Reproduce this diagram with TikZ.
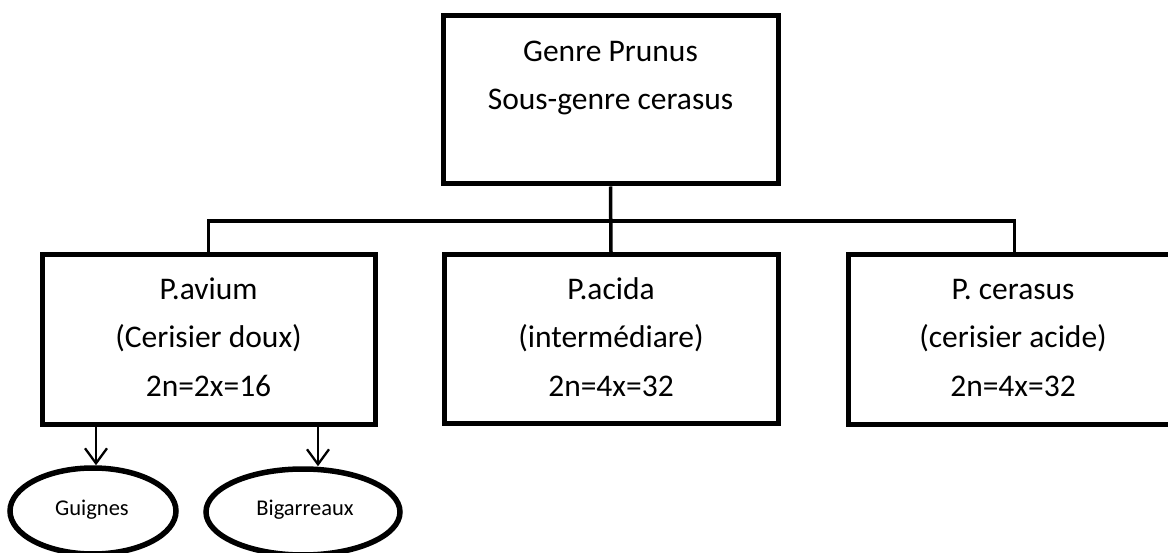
\documentclass[tikz,border=0pt]{standalone}
\usepackage{fontspec}
\setmainfont{Carlito}
\usetikzlibrary{arrows.meta,shapes.geometric}
\begin{document}
\begin{tikzpicture}[x=1pt,y=-1pt,
  box/.style={draw=black,line width=5pt,rectangle,inner sep=0pt},
  big/.style={font=\fontsize{31.5}{38}\selectfont,anchor=base,inner sep=0pt},
  small/.style={font=\fontsize{22.5}{27}\selectfont,inner sep=0pt},
  oval/.style={draw=black,line width=5.5pt,ellipse,inner sep=0pt},
  conn/.style={draw=black,line width=3.5pt},
  arr/.style={draw=black,line width=2.3pt,-{Straight Barb[length=15pt,width=22pt,line width=2.3pt]}}]
\useasboundingbox (0,0) rectangle (1168,553);
\clip (0,0) rectangle (1168,553);
% boxes
\node[box,minimum width=335pt,minimum height=168pt] (top) at (610.5,100) {};
\node[box,minimum width=333pt,minimum height=169pt] (pavium) at (208.5,339.5) {};
\node[box,minimum width=334pt,minimum height=168pt] (acida) at (611,339) {};
\node[box,minimum width=333pt,minimum height=169pt] (cerasus) at (1014.5,339.5) {};
% texts
\node[big] (t1) at (610.5,62) {Genre Prunus};
\node[big] (t2) at (610.5,110) {Sous-genre cerasus};
\node[big] (a1) at (208.5,300) {P.avium};
\node[big] (a2) at (208.5,348) {(Cerisier doux)};
\node[big] (a3) at (208.5,397) {2n=2x=16};
\node[big] (b1) at (611,300) {P.acida};
\node[big] (b2) at (611,348) {(intermédiare)};
\node[big] (b3) at (611,397) {2n=4x=32};
\node[big] (c1) at (1013,300) {P. cerasus};
\node[big] (c2) at (1013,348) {(cerisier acide)};
\node[big] (c3) at (1013,397) {2n=4x=32};
% connectors
\coordinate (bar) at (611,221);
\draw[conn] (pavium.north) |- (bar) -| (cerasus.north);
\draw[conn] (top.south) -- (acida.north);
% ellipses
\node[oval,minimum width=166pt,minimum height=86pt] (guignes) at (93,511) {};
\node[small] (gt) at (92,510) {Guignes};
\node[oval,minimum width=194pt,minimum height=86pt] (bigarreaux) at (303,512) {};
\node[small] (bt) at (305,510) {Bigarreaux};
\draw[arr] (pavium.south -| 96,0) -- (guignes.north -| 96,0);
\draw[arr] (pavium.south -| 318,0) -- (bigarreaux.north -| 318,0);
\end{tikzpicture}
\end{document}
